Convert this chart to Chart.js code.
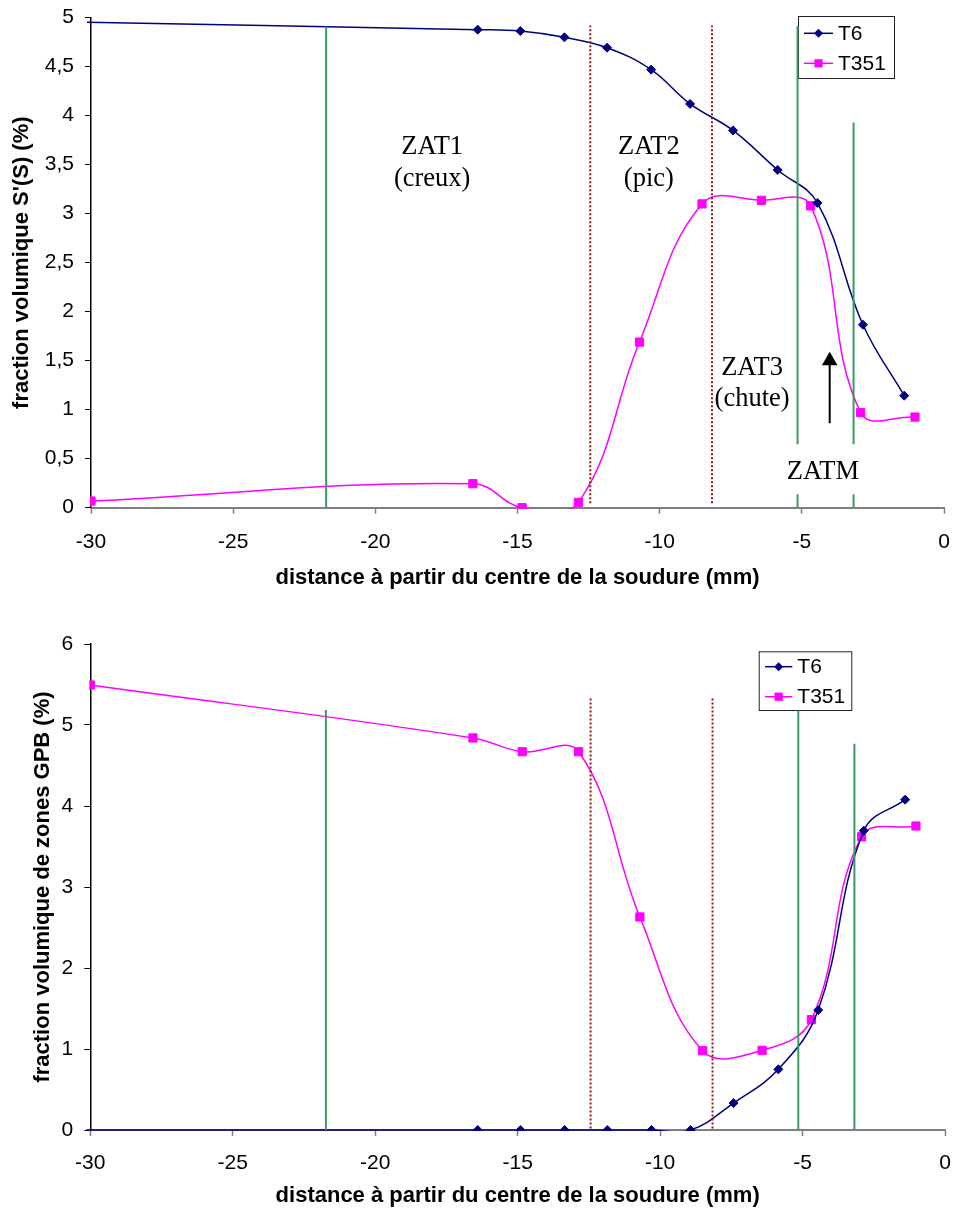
<!DOCTYPE html>
<html>
<head>
<meta charset="utf-8">
<script src="https://cdn.jsdelivr.net/npm/chart.js@4.4.1/dist/chart.umd.min.js"></script>
<style>
  body { margin: 0; background: #fff; }
  .box { position: absolute; left: 0; width: 953px; height: 605px; }
</style>
</head>
<body>
<div class="box" style="top:0"><canvas id="chartS" width="953" height="605"></canvas></div>
<div class="box" style="top:605px"><canvas id="chartGpb" width="953" height="605"></canvas></div>
<script>
// distances (mm) of the measurement points
const distT6 = [-30.5, -16.4, -14.9, -13.35, -11.85, -10.3, -8.93, -7.42, -5.85, -4.45, -2.85, -1.4];
const distT351 = [-30, -16.57, -14.84, -12.86, -10.71, -8.51, -6.42, -4.69, -2.93, -1.02];

// fraction volumique S'(S) (%)
const sT6 = [4.955, 4.878, 4.864, 4.8, 4.694, 4.47, 4.12, 3.85, 3.446, 3.11, 1.867, 1.143];
const sT351 = [0.068, 0.245, 0.0, 0.055, 1.69, 3.1, 3.137, 3.08, 0.97, 0.925];

// fraction volumique de zones GPB (%)
const gpbT6 = [0, 0, 0, 0, 0, 0, 0, 0.333, 0.749, 1.48, 3.695, 4.078];
const gpbT351 = [5.494, 4.84, 4.67, 4.67, 2.63, 0.979, 0.984, 1.362, 3.62, 3.753];

// zone limits
const limitsX = [-21.73, -5.15, -3.18];
const limitsTopS = [4.91, 4.915, 3.93];
const limitsTopGpb = [5.185, 5.18, 4.77];
const zatSplitX = [-12.44, -8.16];
const zatSplitTopS = 4.92;
const zatSplitTopGpb = 5.33;
const zatmGapS = [0.137, 0.647];

const xTicks = [-30, -25, -20, -15, -10, -5, 0];

Chart.defaults.font.family = "'Liberation Sans', Arial, sans-serif";
Chart.defaults.color = '#000';

const GREEN = '#3b9a63';
const DOTRED = '#8b1a1a';

function pts(xs, ys) {
    return xs.map((x, i) => ({ x: x, y: ys[i] }));
}

function seriesSets(yT6, yT351) {
    return [
        {
            label: 'T6',
            data: pts(distT6, yT6),
            borderColor: '#000080',
            backgroundColor: '#000080',
            borderWidth: 1.5,
            pointStyle: 'rectRot',
            pointRadius: 4.5,
            pointBorderWidth: 1,
            tension: 0.4,
            clip: { left: 4, top: 1, right: 1, bottom: 1 },
        },
        {
            label: 'T351',
            data: pts(distT351, yT351),
            borderColor: '#ff00ff',
            backgroundColor: '#ff00ff',
            borderWidth: 1.5,
            pointStyle: 'rect',
            pointRadius: 5.8,
            pointBorderWidth: 1,
            tension: 0.4,
            clip: { left: 1, top: 1, right: 1, bottom: 1 },
        },
    ];
}

function vline(x, y0, y1, color, dash, gap) {
    let data = [{ x: x, y: y0 }, { x: x, y: y1 }];
    if (gap) {
        data = [{ x: x, y: y0 }, { x: x, y: gap[0] }, { x: x, y: null }, { x: x, y: gap[1] }, { x: x, y: y1 }];
    }
    return {
        label: '',
        data: data,
        borderColor: color,
        borderWidth: 2,
        borderDash: dash || [],
        pointRadius: 0,
        tension: 0,
        spanGaps: false,
        order: -1,
    };
}

// text notes
const notesPlugin = {
    id: 'notes',
    afterDatasetsDraw(chart, args, opts) {
        const ctx = chart.ctx;
        const { x, y } = chart.scales;
        ctx.save();
        ctx.font = opts.font;
        ctx.fillStyle = '#000';
        ctx.textAlign = 'center';
        ctx.textBaseline = 'middle';
        (opts.labels || []).forEach(l => {
            l.lines.forEach((t, i) => {
                ctx.fillText(t, x.getPixelForValue(l.x), y.getPixelForValue(l.y[i]));
            });
        });
        ctx.restore();
    }
};

// framed legend like the original
const legendPlugin = {
    id: 'legendBox',
    beforeDatasetsDraw(chart, args, o) {
        const ctx = chart.ctx;
        ctx.save();
        ctx.fillStyle = '#fff';
        ctx.fillRect(o.left, o.top, o.width, o.height);
        ctx.strokeStyle = '#222';
        ctx.lineWidth = 1;
        ctx.strokeRect(o.left + 0.5, o.top + 0.5, o.width, o.height);
        [0, 1].forEach(i => {
            const ds = chart.data.datasets[i];
            const cy = o.top + o.rowTop + i * o.rowGap;
            const x0 = o.left + o.lineX0, x1 = o.left + o.lineX1, cx = (x0 + x1) / 2;
            ctx.strokeStyle = ds.borderColor;
            ctx.lineWidth = ds.borderWidth;
            ctx.beginPath();
            ctx.moveTo(x0, cy);
            ctx.lineTo(x1, cy);
            ctx.stroke();
            ctx.fillStyle = ds.backgroundColor;
            ctx.beginPath();
            if (ds.pointStyle === 'rectRot') {
                const r = ds.pointRadius;
                ctx.moveTo(cx, cy - r);
                ctx.lineTo(cx + r, cy);
                ctx.lineTo(cx, cy + r);
                ctx.lineTo(cx - r, cy);
                ctx.closePath();
            } else {
                const h = ds.pointRadius * Math.SQRT1_2;
                ctx.rect(cx - h, cy - h, 2 * h, 2 * h);
            }
            ctx.fill();
            ctx.fillStyle = '#000';
            ctx.font = "21px 'Liberation Sans', Arial, sans-serif";
            ctx.textAlign = 'left';
            ctx.textBaseline = 'middle';
            ctx.fillText(ds.label, o.left + o.textX, cy + 1);
        });
        ctx.restore();
    }
};

function axes(yMax, yStep, yTitle, cfg) {
    return {
        x: {
            type: 'linear',
            min: -30,
            max: 0,
            afterBuildTicks: s => { s.ticks = xTicks.map(v => ({ value: v })); },
            ticks: { font: { size: 21 }, padding: cfg.xTickPad, color: '#000' },
            grid: { drawOnChartArea: false, tickLength: 6, tickColor: '#808080', tickWidth: 1.5 },
            border: { color: '#808080', width: 2 },
            title: {
                display: true,
                text: 'distance à partir du centre de la soudure (mm)',
                font: { size: 22, weight: 'bold' },
                color: '#000',
                padding: { top: 0, bottom: cfg.xTitlePad },
            },
            afterFit: s => {
                s.height = cfg.xHeight;
                s.paddingLeft = 0;
                s.paddingRight = 0;
            },
        },
        y: {
            min: 0,
            max: yMax,
            ticks: {
                stepSize: yStep,
                font: { size: 21 },
                padding: 11,
                color: '#000',
                callback: v => String(v).replace('.', ','),
            },
            grid: { drawOnChartArea: false, tickLength: 6, tickColor: '#000', tickWidth: 1 },
            border: { color: '#000', width: 1.5 },
            title: {
                display: true,
                text: yTitle,
                font: { size: 22, weight: 'bold' },
                color: '#000',
                padding: { top: cfg.yTitlePad, bottom: 0 },
            },
            afterFit: s => {
                s.width = cfg.yWidth;
                s.paddingTop = 0;
                s.paddingBottom = 0;
            },
        },
    };
}

const commonElements = {
    line: { capBezierPoints: false },
};

new Chart('chartS', {
    type: 'line',
    data: {
        datasets: [
            ...seriesSets(sT6, sT351),
            vline(limitsX[0], 0, limitsTopS[0], GREEN),
            vline(limitsX[1], 0, limitsTopS[1], GREEN, null, zatmGapS),
            vline(limitsX[2], 0, limitsTopS[2], GREEN, null, zatmGapS),
            vline(zatSplitX[0], 0.045, zatSplitTopS, DOTRED, [2, 2]),
            vline(zatSplitX[1], 0.045, zatSplitTopS, DOTRED, [2, 2]),
            {
                label: '',
                data: [{ x: -4.02, y: 0.861 }, { x: -4.02, y: 1.5 }],
                borderColor: '#000',
                backgroundColor: '#000',
                borderWidth: 2,
                pointRadius: [0, 9],
                pointStyle: 'triangle',
                pointBorderWidth: 0,
                order: -2,
            },
        ]
    },
    options: {
        responsive: false,
        animation: false,
        elements: commonElements,
        layout: { padding: { left: 0, right: 8, top: 17.7, bottom: 0 } },
        plugins: {
            legend: { display: false },
            tooltip: { enabled: false },
            legendBox: { left: 798, top: 16, width: 96, height: 62, rowTop: 17.3, rowGap: 30, lineX0: 6, lineX1: 35, textX: 40 },
            notes: {
                font: "26.5px 'Liberation Serif', 'Times New Roman', serif",
                labels: [
                    { x: -18.0, y: [3.68, 3.35], lines: ['ZAT1', '(creux)'] },
                    { x: -10.38, y: [3.68, 3.35], lines: ['ZAT2', '(pic)'] },
                    { x: -6.75, y: [1.43, 1.106], lines: ['ZAT3', '(chute)'] },
                    { x: -4.26, y: [0.36], lines: ['ZATM'] },
                ],
            },
        },
        scales: axes(5, 0.5, "fraction volumique S'(S) (%)", { xTickPad: 16, xTitlePad: 13.8, xHeight: 97.3, yTitlePad: 8.8, yWidth: 91 }),
    },
    plugins: [legendPlugin, notesPlugin],
});

new Chart('chartGpb', {
    type: 'line',
    data: {
        datasets: [
            ...seriesSets(gpbT6, gpbT351),
            vline(limitsX[0], 0, limitsTopGpb[0], GREEN),
            vline(limitsX[1], -0.02, limitsTopGpb[1], GREEN),
            vline(limitsX[2], -0.02, limitsTopGpb[2], GREEN),
            vline(zatSplitX[0], 0.02, zatSplitTopGpb, DOTRED, [2, 2]),
            vline(zatSplitX[1], 0.02, zatSplitTopGpb, DOTRED, [2, 2]),
        ]
    },
    options: {
        responsive: false,
        animation: false,
        elements: commonElements,
        layout: { padding: { left: 0, right: 8, top: 39, bottom: 0 } },
        plugins: {
            legend: { display: false },
            tooltip: { enabled: false },
            legendBox: { left: 758.7, top: 46.3, width: 92.6, height: 58.7, rowTop: 15.4, rowGap: 30, lineX0: 6.3, lineX1: 33.6, textX: 38.6 },
            notes: { font: "25px 'Liberation Serif', serif", labels: [] },
        },
        scales: axes(6, 1, 'fraction volumique de zones GPB (%)', { xTickPad: 15, xTitlePad: 0.8, xHeight: 80, yTitlePad: 30, yWidth: 90.3 }),
    },
    plugins: [legendPlugin, notesPlugin],
});
</script>
</body>
</html>
